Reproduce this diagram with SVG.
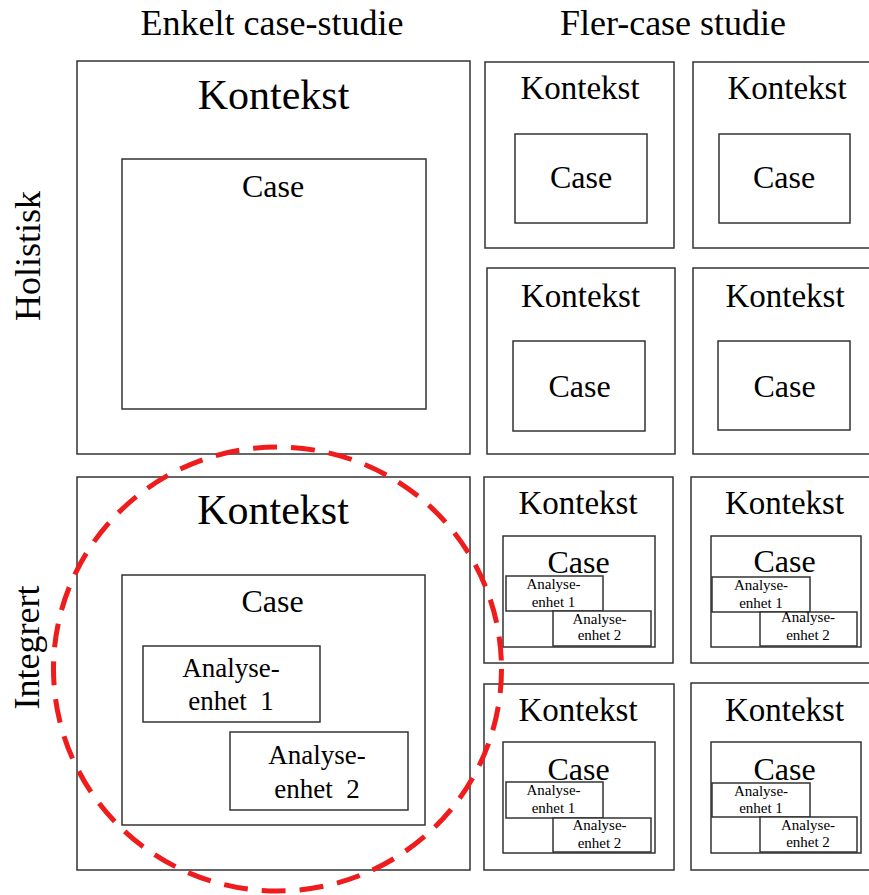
<svg xmlns="http://www.w3.org/2000/svg" width="869" height="895" viewBox="0 0 869 895">
  <style>
    .box { fill: #fff; stroke: #333; stroke-width: 1.5; }
    text { font-family: 'Liberation Serif', 'Times New Roman', 'DejaVu Serif', serif; fill: #000; text-anchor: middle; }
    .head { font-size: 36px; }
    .k1 { font-size: 42px; }
    .c1 { font-size: 32px; }
    .k2 { font-size: 33px; }
    .c2 { font-size: 32px; }
    .a1 { font-size: 27px; }
    .a2 { font-size: 15px; }
    .focus { fill: none; stroke: #ee1c1c; stroke-width: 5; stroke-dasharray: 24 14; }
  </style>
  <rect width="869" height="895" fill="#fff"/>

  <g font-family="Liberation Serif, Times New Roman, DejaVu Serif, serif">
  <!-- column and row headings -->
  <g id="headings">
    <text class="head" x="272" y="35">Enkelt case-studie</text>
    <text class="head" x="673" y="35">Fler-case studie</text>
    <text class="head" transform="translate(40,256) rotate(-90)">Holistisk</text>
    <text class="head" transform="translate(39,647.5) rotate(-90)">Integrert</text>
  </g>

  <!-- holistic, single case -->
  <g id="holistic-single">
    <rect class="box" x="77" y="61" width="393" height="393"/>
    <text class="k1" x="273.5" y="109">Kontekst</text>
    <rect class="box" x="122" y="159" width="304" height="250"/>
    <text class="c1" x="273" y="197">Case</text>
  </g>

  <!-- holistic, multiple cases -->
  <g id="holistic-multi-1">
    <rect class="box" x="485" y="62" width="189" height="186"/>
    <text class="k2" x="580" y="99">Kontekst</text>
    <rect class="box" x="515" y="134" width="132" height="89"/>
    <text class="c2" x="581" y="188">Case</text>
  </g>
  <g id="holistic-multi-2">
    <rect class="box" x="693" y="62" width="190" height="186"/>
    <text class="k2" x="787" y="99">Kontekst</text>
    <rect class="box" x="719" y="134" width="131" height="89"/>
    <text class="c2" x="784" y="188">Case</text>
  </g>
  <g id="holistic-multi-3">
    <rect class="box" x="487" y="268" width="188" height="186"/>
    <text class="k2" x="580.5" y="307">Kontekst</text>
    <rect class="box" x="513" y="341" width="132" height="90"/>
    <text class="c2" x="579.5" y="397">Case</text>
  </g>
  <g id="holistic-multi-4">
    <rect class="box" x="693" y="268" width="190" height="186"/>
    <text class="k2" x="785" y="307">Kontekst</text>
    <rect class="box" x="718" y="341" width="132" height="89"/>
    <text class="c2" x="784.5" y="397">Case</text>
  </g>

  <!-- embedded, single case -->
  <g id="embedded-single">
    <rect class="box" x="77" y="477" width="393" height="393"/>
    <text class="k1" x="273" y="524">Kontekst</text>
    <rect class="box" x="122" y="575" width="303" height="250"/>
    <text class="c1" x="272.5" y="612">Case</text>
    <rect class="box" x="143" y="646" width="177" height="76"/>
    <text class="a1" x="231" y="677">Analyse-</text>
    <text class="a1" x="231" y="710" xml:space="preserve">enhet  1</text>
    <rect class="box" x="230" y="732" width="178" height="78"/>
    <text class="a1" x="317" y="764">Analyse-</text>
    <text class="a1" x="317" y="798" xml:space="preserve">enhet  2</text>
  </g>

  <!-- embedded, multiple cases -->
  <g id="embedded-multi-1">
    <rect class="box" x="484" y="477" width="189" height="186"/>
    <text class="k2" x="578" y="514">Kontekst</text>
    <rect class="box" x="503" y="536" width="152" height="111"/>
    <text class="c2" x="578.5" y="573">Case</text>
    <rect class="box" x="506" y="576" width="97" height="35"/>
    <text class="a2" x="553.5" y="589">Analyse-</text>
    <text class="a2" x="553.5" y="606.5">enhet 1</text>
    <rect class="box" x="553" y="611" width="98" height="35"/>
    <text class="a2" x="599.5" y="623.5">Analyse-</text>
    <text class="a2" x="599.5" y="640">enhet 2</text>
  </g>
  <g id="embedded-multi-2">
    <rect class="box" x="691" y="477" width="192" height="186"/>
    <text class="k2" x="784.5" y="514">Kontekst</text>
    <rect class="box" x="711" y="536" width="150" height="111"/>
    <text class="c2" x="784.5" y="572">Case</text>
    <rect class="box" x="712" y="577" width="98" height="35"/>
    <text class="a2" x="761" y="590">Analyse-</text>
    <text class="a2" x="761" y="607.5">enhet 1</text>
    <rect class="box" x="760" y="612" width="97" height="34"/>
    <text class="a2" x="808" y="622">Analyse-</text>
    <text class="a2" x="808" y="639.5">enhet 2</text>
  </g>
  <g id="embedded-multi-3">
    <rect class="box" x="484" y="684" width="190" height="186"/>
    <text class="k2" x="578" y="721">Kontekst</text>
    <rect class="box" x="503" y="742" width="152" height="111"/>
    <text class="c2" x="578.5" y="779.5">Case</text>
    <rect class="box" x="506" y="782" width="97" height="36"/>
    <text class="a2" x="553.5" y="795">Analyse-</text>
    <text class="a2" x="553.5" y="812.5">enhet 1</text>
    <rect class="box" x="553" y="818" width="98" height="34"/>
    <text class="a2" x="599.5" y="830">Analyse-</text>
    <text class="a2" x="599.5" y="847.5">enhet 2</text>
  </g>
  <g id="embedded-multi-4">
    <rect class="box" x="691" y="683" width="192" height="187"/>
    <text class="k2" x="784.5" y="721">Kontekst</text>
    <rect class="box" x="711" y="742" width="150" height="111"/>
    <text class="c2" x="784.5" y="780">Case</text>
    <rect class="box" x="712" y="783" width="98" height="34"/>
    <text class="a2" x="761" y="796">Analyse-</text>
    <text class="a2" x="761" y="813">enhet 1</text>
    <rect class="box" x="760" y="817" width="97" height="35"/>
    <text class="a2" x="808" y="830">Analyse-</text>
    <text class="a2" x="808" y="847">enhet 2</text>
  </g>
  </g>

  <!-- dashed highlight around the embedded single-case design -->
  <g id="connectors">
    <ellipse class="focus" cx="277.5" cy="669" rx="224" ry="222"/>
  </g>
</svg>
